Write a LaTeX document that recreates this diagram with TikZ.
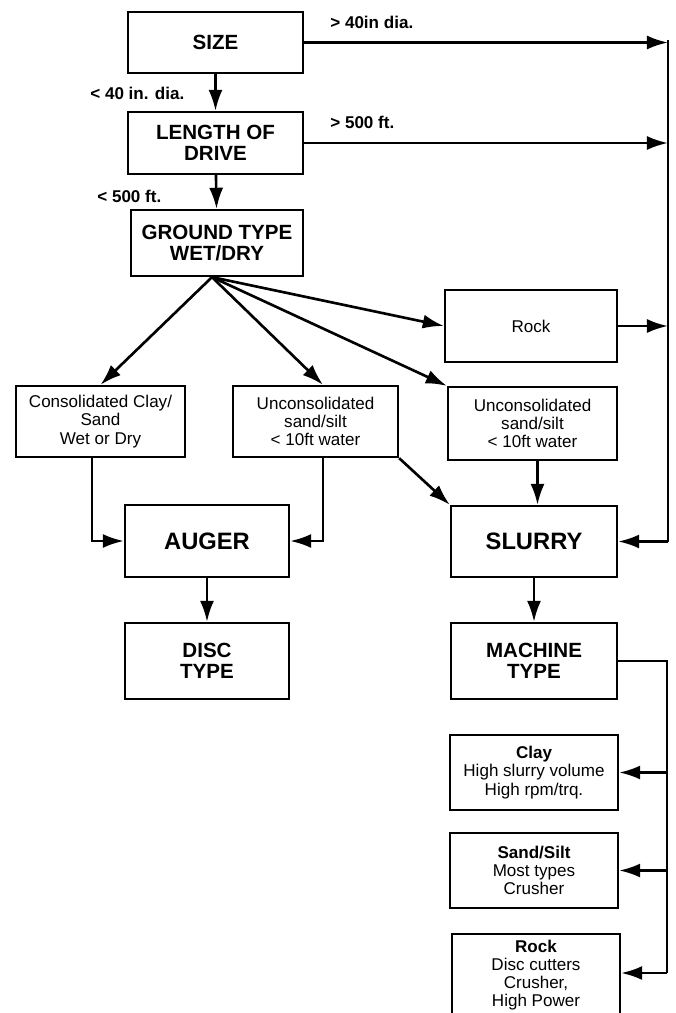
\documentclass[tikz,border=0pt]{standalone}
\usepackage{fontspec}
\setmainfont{Liberation Sans}
\usetikzlibrary{arrows.meta,positioning}

\tikzset{
  tbox/.style={draw,line width=1.3pt,align=center,inner sep=0pt,
    font=\fontsize{11.7}{12.2}\selectfont\bfseries},
  bigbox/.style={tbox,font=\fontsize{13.5}{14}\selectfont\bfseries},
  sbox/.style={draw,line width=1.3pt,align=center,inner sep=0pt,
    font=\fontsize{9.7}{10.3}\selectfont},
  lbl/.style={inner sep=0pt,font=\fontsize{9.7}{10}\selectfont\bfseries},
  flow/.style={->,line width=1.5pt},
}

\begin{document}
\begin{tikzpicture}[>={Latex[length=12pt,width=8pt]}]
\useasboundingbox (0,0) rectangle (13.5,-20.26);
% selection chain
\node[tbox,minimum width=3.5cm,minimum height=1.22cm] (size) at (4.31,-.85) {SIZE};
\node[tbox,minimum width=3.5cm,minimum height=1.24cm] (length) at (4.31,-2.86) {LENGTH OF\\DRIVE};
\node[tbox,minimum width=3.44cm,minimum height=1.32cm] (ground) at (4.34,-4.86) {GROUND TYPE\\WET/DRY};
% ground classes
\node[sbox,minimum width=3.44cm,minimum height=1.44cm] (rock) at (10.62,-6.52) {Rock};
\node[sbox,minimum width=3.38cm,minimum height=1.42cm] (consol) at (2.01,-8.43) {Consolidated Clay/\\Sand\\Wet or Dry};
\node[sbox,minimum width=3.3cm,minimum height=1.42cm] (unconL) at (6.31,-8.43) {Unconsolidated\\sand/silt\\< 10ft water};
\node[sbox,minimum width=3.38cm,minimum height=1.46cm] (unconR) at (10.65,-8.47) {Unconsolidated\\sand/silt\\< 10ft water};
% machines
\node[bigbox,minimum width=3.28cm,minimum height=1.44cm] (auger) at (4.14,-10.82) {AUGER};
\node[bigbox,minimum width=3.32cm,minimum height=1.42cm] (slurry) at (10.68,-10.83) {SLURRY};
\node[tbox,minimum width=3.28cm,minimum height=1.52cm] (disc) at (4.14,-13.22) {DISC\\TYPE};
\node[tbox,minimum width=3.32cm,minimum height=1.52cm] (machine) at (10.68,-13.22) {MACHINE\\TYPE};
\node[sbox,minimum width=3.36cm,minimum height=1.5cm] (clay) at (10.68,-15.45) {\textbf{Clay}\\High slurry volume\\High rpm/trq.};
\node[sbox,minimum width=3.36cm,minimum height=1.5cm] (sandsilt) at (10.68,-17.41) {\textbf{Sand/Silt}\\Most types\\Crusher};
\node[sbox,minimum width=3.36cm,minimum height=1.64cm] (rockm) at (10.72,-19.5) {\textbf{Rock}\\Disc cutters\\Crusher,\\High Power};
% branch labels
\node[lbl,anchor=base west] (gt40) at (6.6,-.56) {> 40in dia.};
\node[lbl,anchor=base west] (lt40) at (1.8,-1.98) {< 40 in. dia.};
\node[lbl,anchor=base west] (gt500) at (6.6,-2.56) {> 500 ft.};
\node[lbl,anchor=base west] (lt500) at (1.94,-4.04) {< 500 ft.};
% rails on the right
\coordinate (rtop) at (13.36,-.8);
\coordinate (rbot) at (13.36,-10.83);
\coordinate (mtop) at (13.34,-13.26);
\coordinate (mbot) at (13.34,-19.46);
\coordinate (fan) at ([xshift=-.1cm]ground.south);

\draw[flow] (size) -- (length);
\draw[flow] (length) -- (ground);
\draw[flow] (size.east) -- (size.east -| rtop);
\draw[flow] (length.east) -- (length.east -| rtop);
\draw[flow] (rock.east) -- (rock.east -| rtop);
\draw[line width=1.5pt] (rtop) -- (rbot);
\draw[flow] (rbot) -- (slurry.east);

\draw[flow] (fan) -- (consol.north);
\draw[flow] (fan) -- ([xshift=.15cm]unconL.north);
\draw[flow] (fan) -- (unconR.north west);
\draw[flow] (fan) -- (rock.west);

\draw[flow] ([xshift=-.17cm]consol.south) |- (auger.west);
\draw[flow] ([xshift=.15cm]unconL.south) |- (auger.east);
\draw[flow] (unconL.south east) -- (slurry.north west);
\draw[flow] ([xshift=.1cm]unconR.south) -- ([xshift=.1cm]unconR.south |- slurry.north);
\draw[flow] (auger) -- (disc);
\draw[flow] (slurry) -- (machine);

\draw[line width=1.2pt] (machine.east) -- (machine.east -| mtop) -- (mbot);
\draw[flow] (clay.east -| mtop) -- (clay.east);
\draw[flow] (sandsilt.east -| mtop) -- (sandsilt.east);
\draw[flow] (mbot) -- (mbot -| rockm.east);
\end{tikzpicture}
\end{document}
